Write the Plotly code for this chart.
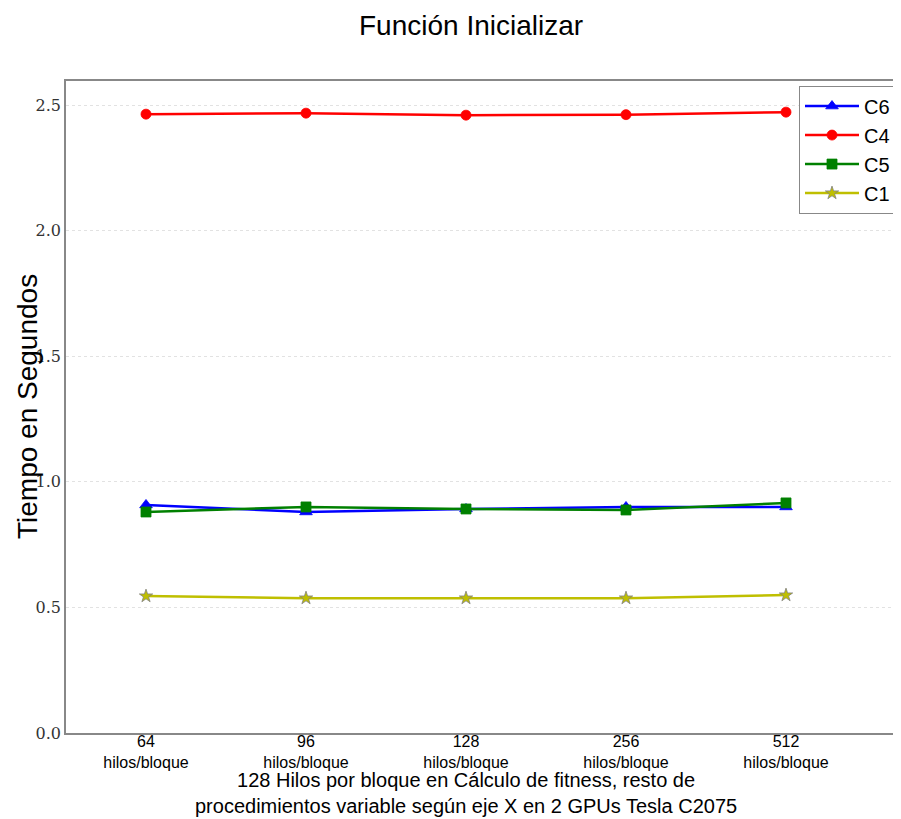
import plotly.graph_objects as go

categories = ["64<br>hilos/bloque", "96<br>hilos/bloque", "128<br>hilos/bloque",
              "256<br>hilos/bloque", "512<br>hilos/bloque"]
c6 = [0.908, 0.880, 0.892, 0.900, 0.900]
c4 = [2.464, 2.468, 2.460, 2.462, 2.472]
c5 = [0.880, 0.900, 0.892, 0.888, 0.916]
c1 = [0.545, 0.537, 0.537, 0.537, 0.549]
y_ticks = [0.0, 0.5, 1.0, 1.5, 2.0, 2.5]
y_tick_labels = ["0.0", "0.5", "1.0", "1.5", "2.0", "2.5"]

xs = list(range(len(categories)))

fig = go.Figure()
series = [
    ("C6", c6, "#0000ff", "triangle-up", 11, "#0000ff"),
    ("C4", c4, "#ff0000", "circle", 10, "#ff0000"),
    ("C5", c5, "#008000", "square", 10, "#008000"),
    ("C1", c1, "#bfbf00", "star", 10, "#808080"),
]
for name, vals, color, sym, size, edge in series:
    fig.add_trace(go.Scatter(
        x=xs, y=vals, name=name, mode="lines+markers",
        line=dict(color=color, width=2.5),
        marker=dict(symbol=sym, size=size, color=color,
                    line=dict(color=edge, width=0.8)),
    ))

W = 920
L = 58
plot_w = W - L

fig.update_layout(
    width=W, height=811,
    margin=dict(l=L, r=0, t=73, b=86, autoexpand=False),
    paper_bgcolor="white", plot_bgcolor="white",
    showlegend=True,
    legend=dict(x=(791 - L) / plot_w, y=0.993, xanchor="left", yanchor="top",
                bordercolor="#888888", borderwidth=1, bgcolor="white",
                font=dict(family="Liberation Sans", size=20, color="black"),
                itemwidth=54, tracegroupgap=2),
    font=dict(family="Liberation Sans", color="black"),
    annotations=[
        dict(text="Función Inicializar", xref="paper", yref="paper",
             x=(463 - L) / plot_w, y=1.0, yshift=56, xanchor="center",
             yanchor="middle", showarrow=False,
             font=dict(size=28, family="Liberation Sans")),
        dict(text="Tiempo en Segundos", xref="paper", yref="paper",
             x=0, xshift=-39, y=0.5, textangle=-90, xanchor="center",
             yanchor="middle", showarrow=False,
             font=dict(size=28, family="Liberation Sans")),
        dict(text="128 Hilos por bloque en Cálculo de fitness, resto de<br>"
                  "procedimientos variable según eje X en 2 GPUs Tesla C2075",
             xref="paper", yref="paper", x=(458 - L) / plot_w, y=0, yshift=-60,
             xanchor="center", yanchor="middle", showarrow=False,
             font=dict(size=20, family="Liberation Sans")),
    ],
)

fig.update_xaxes(
    tickmode="array", tickvals=xs, ticktext=categories,
    range=[-0.5, -0.5 + plot_w / 160.0], showgrid=False, zeroline=False,
    showline=True, linecolor="#888888", linewidth=1.5, mirror=True,
    tickfont=dict(family="Liberation Sans", size=16, color="black"),
    ticks="", ticklen=0, ticklabelstandoff=-7,
)
fig.update_yaxes(
    tickmode="array", tickvals=y_ticks, ticktext=y_tick_labels,
    range=[0, 2.596], showgrid=True, gridcolor="#e2e2e2", griddash="dot",
    gridwidth=1, zeroline=False,
    showline=True, linecolor="#888888", linewidth=1.5, mirror=True,
    tickfont=dict(family="DejaVu Serif, Liberation Serif, serif", size=16, color="#333333"),
    ticks="", ticklen=0,
)

fig.write_html("out.html")
